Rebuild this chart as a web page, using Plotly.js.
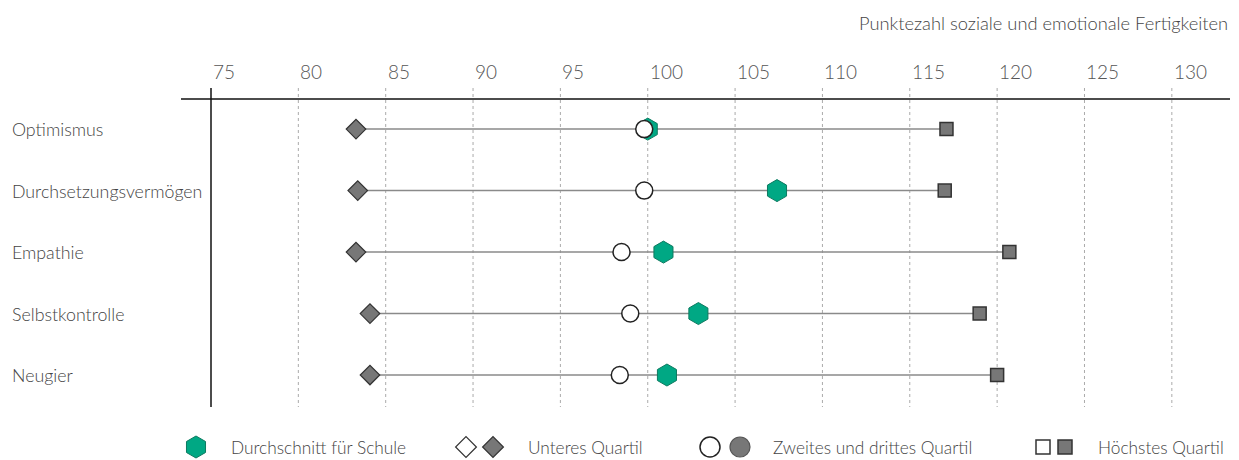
<!DOCTYPE html>
<html>
<head>
<meta charset="utf-8">
<script src="https://cdn.plot.ly/plotly-3.0.1.min.js"></script>
<style>html,body{margin:0;padding:0;background:#fff;}#chart{width:1239px;height:460px;}</style>
</head>
<body>
<div id="chart"></div>
<script>
// ---- data ----
const categories = ['Optimismus', 'Durchsetzungsvermögen', 'Empathie', 'Selbstkontrolle', 'Neugier'];
const lowerQuartile = [83.3, 83.4, 83.3, 84.1, 84.1];
const middleQuartiles = [99.8, 99.8, 98.5, 99.0, 98.4];
const schoolAverage = [100.0, 107.4, 100.9, 102.9, 101.1];
const topQuartile = [117.1, 117.0, 120.7, 119.0, 120.0];
const tickValues = [75, 80, 85, 90, 95, 100, 105, 110, 115, 120, 125, 130];
const tickLabels = ['75', '80', '85', '90', '95', '100', '105', '110', '115', '120', '125', '130'];
const axisTitle = 'Punktezahl soziale und emotionale Fertigkeiten';
const legendLabels = ['Durchschnitt für Schule', 'Unteres Quartil', 'Zweites und drittes Quartil', 'Höchstes Quartil'];

// ---- styles ----
const W = 1239, H = 460;
const FONT = {family: 'Lato, "Open Sans", sans-serif', color: '#444', weight: 300};
const GREEN = '#00a884', GREEN_LINE = '#0d7a60';
const GREY = '#777777', DARK = '#333333';

// connectors
const lx = [], ly = [];
categories.forEach((c, i) => { lx.push(lowerQuartile[i], topQuartile[i], null); ly.push(c, c, null); });

const traces = [
  {x: lx, y: ly, mode: 'lines', line: {color: '#8a8a8a', width: 1.5}, hoverinfo: 'skip', xaxis: 'x', yaxis: 'y'},
  {x: lowerQuartile, y: categories, mode: 'markers', name: legendLabels[1],
   marker: {symbol: 'diamond', size: 15, color: GREY, opacity: 1, line: {color: DARK, width: 1.2}}, xaxis: 'x', yaxis: 'y'},
  {x: topQuartile, y: categories, mode: 'markers', name: legendLabels[3],
   marker: {symbol: 'square', size: 13, color: GREY, opacity: 1, line: {color: DARK, width: 1.5}}, xaxis: 'x', yaxis: 'y'},
  {x: schoolAverage, y: categories, mode: 'markers', name: legendLabels[0],
   marker: {symbol: 'hexagon', size: 22, color: GREEN, opacity: 1, line: {color: GREEN_LINE, width: 1}}, xaxis: 'x', yaxis: 'y'},
  {x: middleQuartiles, y: categories, mode: 'markers', name: legendLabels[2],
   marker: {symbol: 'circle', size: 17, color: '#ffffff', opacity: 1, line: {color: '#222', width: 1.5}}, xaxis: 'x', yaxis: 'y'},
];

// legend swatches in a pixel-space overlay
const LY = 447;
const legendSym = [
  {x: 196, s: 'hexagon', size: 22, c: GREEN, lc: GREEN_LINE, lw: 1},
  {x: 466, s: 'diamond', size: 16, c: '#fff', lc: DARK, lw: 1.2},
  {x: 493, s: 'diamond', size: 16, c: GREY, lc: DARK, lw: 1.2},
  {x: 710, s: 'circle', size: 20, c: '#fff', lc: '#222', lw: 1.5},
  {x: 740, s: 'circle', size: 20, c: GREY, lc: '#555', lw: 1.2},
  {x: 1043, s: 'square', size: 14, c: '#fff', lc: DARK, lw: 1.5},
  {x: 1065, s: 'square', size: 14, c: GREY, lc: DARK, lw: 1.5},
];
legendSym.forEach(d => traces.push({
  x: [d.x], y: [LY], mode: 'markers', hoverinfo: 'skip', xaxis: 'x2', yaxis: 'y2', cliponaxis: false,
  marker: {symbol: d.s, size: d.size, color: d.c, opacity: 1, line: {color: d.lc, width: d.lw}}
}));
const legendTextX = [229, 526, 771, 1096];

const annotations = [];
// tick labels (left-aligned at gridline)
tickValues.forEach((v, i) => annotations.push({
  x: v, y: 71, xref: 'x', yref: 'y2', text: tickLabels[i], showarrow: false,
  xanchor: 'left', yanchor: 'middle', xshift: 0, font: Object.assign({}, FONT, {size: 19, color: '#555'})
}));
// axis title
annotations.push({x: 1230, y: 23, xref: 'x2', yref: 'y2', text: axisTitle, showarrow: false,
  xanchor: 'right', yanchor: 'middle', font: Object.assign({}, FONT, {size: 18.3})});
// category labels
categories.forEach(c => annotations.push({x: 10, y: c, xref: 'x2', yref: 'y', text: c, showarrow: false,
  xanchor: 'left', yanchor: 'middle', font: Object.assign({}, FONT, {size: 17.8})}));
// legend texts
legendLabels.forEach((t, i) => annotations.push({x: legendTextX[i], y: LY, xref: 'x2', yref: 'y2', text: t,
  showarrow: false, xanchor: 'left', yanchor: 'middle', font: Object.assign({}, FONT, {size: 17.3})}));

const shapes = [];
tickValues.forEach(v => {
  if (v === 75) return;
  shapes.push({type: 'line', xref: 'x', yref: 'y2', x0: v, x1: v, y0: 88, y1: 407,
    line: {color: '#aaaaaa', width: 1, dash: 'dot'}, layer: 'below'});
});
shapes.push({type: 'line', xref: 'x2', yref: 'y2', x0: 181, x1: 1230, y0: 99, y1: 99, line: {color: '#111', width: 1.5}, layer: 'below'});
shapes.push({type: 'line', xref: 'x', yref: 'y2', x0: 75, x1: 75, y0: 88, y1: 407, line: {color: '#111', width: 1.5}, layer: 'below'});

const layout = {
  width: W, height: H, margin: {l: 0, r: 0, t: 0, b: 0},
  paper_bgcolor: '#fff', plot_bgcolor: 'rgba(0,0,0,0)', showlegend: false, font: FONT,
  xaxis: {domain: [181 / W, 1230 / W], range: [73.283, 133.33], visible: false, fixedrange: true, anchor: 'y'},
  yaxis: {domain: [53 / H, 361 / H], type: 'category', categoryarray: categories, range: [4.52, -0.49], visible: false, fixedrange: true, anchor: 'x'},
  xaxis2: {domain: [0, 1], range: [0, W], visible: false, fixedrange: true, anchor: 'y2'},
  yaxis2: {domain: [0, 1], range: [H, 0], visible: false, fixedrange: true, anchor: 'x2'},
  annotations: annotations, shapes: shapes
};

Plotly.newPlot('chart', traces, layout, {staticPlot: true, displayModeBar: false});
</script>
</body>
</html>
